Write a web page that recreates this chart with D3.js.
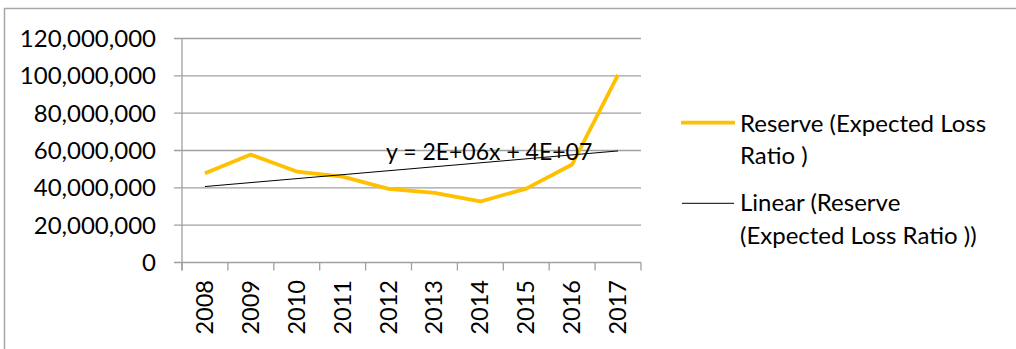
<!DOCTYPE html>
<html>
<head>
<meta charset="utf-8">
<script src="https://cdn.jsdelivr.net/npm/d3@7"></script>
<style>
  body { margin: 0; background: #fff; }
  text { font-family: Lato, "Open Sans", sans-serif; fill: #000; }
</style>
</head>
<body>
<div id="chart"></div>
<script>
// chart data
var years = ["2008", "2009", "2010", "2011", "2012", "2013", "2014", "2015", "2016", "2017"];
var reserve = [47800000, 57800000, 48700000, 46000000, 39400000, 37300000, 32700000, 39600000, 52500000, 100500000];
var yTicks = [0, 20000000, 40000000, 60000000, 80000000, 100000000, 120000000];
var seriesName = ["Reserve (Expected Loss", "Ratio )"];
var trendName = ["Linear (Reserve", "(Expected Loss Ratio ))"];
var trendLabel = "y = 2E+06x + 4E+07";

var width = 1016, height = 349;
var plot = { left: 182, right: 641, top: 38.5, bottom: 262.5 };

var svg = d3.select("#chart").append("svg")
    .attr("width", width)
    .attr("height", height);

// outer chart border (runs off the right and bottom)
svg.append("rect")
    .attr("x", 4.5)
    .attr("y", 8.5)
    .attr("width", width + 10)
    .attr("height", height + 10)
    .attr("fill", "none")
    .attr("stroke", "#a6a6a6")
    .attr("stroke-width", 1.5);

var x = d3.scaleBand().domain(years).range([plot.left, plot.right]);
var y = d3.scaleLinear().domain([0, 120000000]).range([plot.bottom, plot.top]);

// gridlines
svg.append("g")
    .selectAll("line")
    .data(yTicks)
    .enter().append("line")
    .attr("x1", plot.left - 8)
    .attr("x2", plot.right)
    .attr("y1", function (d) { return y(d); })
    .attr("y2", function (d) { return y(d); })
    .attr("stroke", "#a0a0a0")
    .attr("stroke-width", 1.3);

// y axis line
svg.append("line")
    .attr("x1", plot.left).attr("x2", plot.left)
    .attr("y1", plot.top).attr("y2", plot.bottom + 8)
    .attr("stroke", "#a0a0a0")
    .attr("stroke-width", 1.3);

// y tick labels
svg.append("g")
    .selectAll("text")
    .data(yTicks)
    .enter().append("text")
    .attr("x", 156)
    .attr("y", function (d) { return y(d); })
    .attr("dy", "0.36em")
    .attr("text-anchor", "end")
    .style("font-size", "24px")
    .text(function (d) { return d3.format(",")(d); });

// category tick marks
var edges = years.map(function (d) { return x(d); }).concat([plot.right]);
svg.append("g")
    .selectAll("line")
    .data(edges)
    .enter().append("line")
    .attr("x1", function (d) { return d; })
    .attr("x2", function (d) { return d; })
    .attr("y1", plot.bottom)
    .attr("y2", plot.bottom + 8)
    .attr("stroke", "#a0a0a0")
    .attr("stroke-width", 1.3);

// x labels, rotated
svg.append("g")
    .selectAll("text")
    .data(years)
    .enter().append("text")
    .attr("transform", function (d) {
        return "translate(" + (x(d) + x.bandwidth() / 2 + 8) + "," + 280 + ") rotate(-90)";
    })
    .attr("text-anchor", "end")
    .style("font-size", "23.5px")
    .text(function (d) { return d; });

var cx = function (d, i) { return x(years[i]) + x.bandwidth() / 2; };

// reserve line
svg.append("path")
    .datum(reserve)
    .attr("fill", "none")
    .attr("stroke", "#ffc000")
    .attr("stroke-width", 3.8)
    .attr("stroke-linejoin", "round")
    .attr("d", d3.line().x(cx).y(function (d) { return y(d); }));

// linear trend (least squares on x = 1..n)
var n = reserve.length;
var mx = d3.mean(reserve, function (d, i) { return i + 1; });
var my = d3.mean(reserve);
var sxy = d3.sum(reserve, function (d, i) { return (i + 1 - mx) * (d - my); });
var sxx = d3.sum(reserve, function (d, i) { return (i + 1 - mx) * (i + 1 - mx); });
var slope = sxy / sxx, intercept = my - slope * mx;
var trend = [0, n - 1];

svg.append("path")
    .datum(trend)
    .attr("fill", "none")
    .attr("stroke", "#000")
    .attr("stroke-width", 1)
    .attr("d", d3.line()
        .x(function (d) { return x(years[d]) + x.bandwidth() / 2; })
        .y(function (d) { return y(intercept + slope * (d + 1)); }));

svg.append("text")
    .attr("x", 386)
    .attr("y", 160)
    .style("font-size", "23px")
    .text(trendLabel);

// legend
var legend = svg.append("g");
legend.append("line")
    .attr("x1", 681).attr("x2", 735)
    .attr("y1", 122.7).attr("y2", 122.7)
    .attr("stroke", "#ffc000")
    .attr("stroke-width", 3.8);
legend.append("line")
    .attr("x1", 682).attr("x2", 734)
    .attr("y1", 203.3).attr("y2", 203.3)
    .attr("stroke", "#000")
    .attr("stroke-width", 1);

legend.append("text")
    .attr("x", 740).attr("y", 132)
    .style("font-size", "24px")
    .selectAll("tspan")
    .data(seriesName)
    .enter().append("tspan")
    .attr("x", 740)
    .attr("dy", function (d, i) { return i ? 31.5 : 0; })
    .text(function (d) { return d; });

legend.append("text")
    .attr("x", 740).attr("y", 211)
    .style("font-size", "24px")
    .selectAll("tspan")
    .data(trendName)
    .enter().append("tspan")
    .attr("x", 740)
    .attr("dy", function (d, i) { return i ? 32.5 : 0; })
    .text(function (d) { return d; });
</script>
</body>
</html>
